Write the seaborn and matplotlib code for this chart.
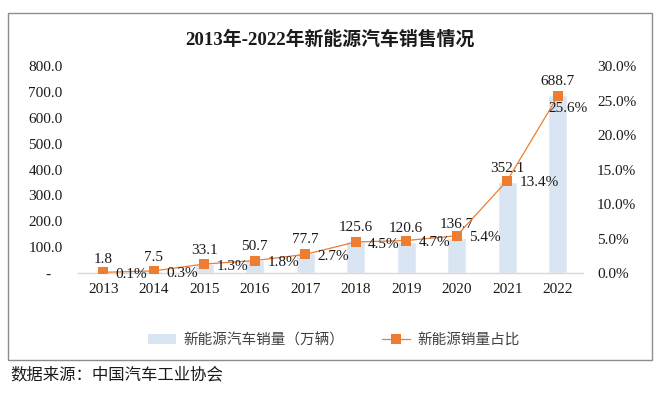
import numpy as np
import pandas as pd
import matplotlib
matplotlib.use("Agg")
import matplotlib.pyplot as plt
from matplotlib.patches import Rectangle, Patch
from matplotlib.lines import Line2D
import seaborn as sns

years = ["2013", "2014", "2015", "2016", "2017", "2018", "2019", "2020", "2021", "2022"]
sales = [1.8, 7.5, 33.1, 50.7, 77.7, 125.6, 120.6, 136.7, 352.1, 688.7]
share = [0.1, 0.3, 1.3, 1.8, 2.7, 4.5, 4.7, 5.4, 13.4, 25.6]
left_ticks = [0, 100, 200, 300, 400, 500, 600, 700, 800]
right_ticks = [0, 5, 10, 15, 20, 25, 30]
title = "2013年-2022年新能源汽车销售情况"
bar_name = "新能源汽车销量（万辆）"
line_name = "新能源销量占比"
source = "数据来源：中国汽车工业协会"

sns.set_theme(style="white")
FAM = ["Liberation Serif", "Noto Sans CJK SC", "DejaVu Sans"]
plt.rcParams["font.family"] = FAM

BAR_C = "#dae5f3"
LINE_C = "#ed7d31"
TXT_C = "#1a1a1a"

df = pd.DataFrame({"year": years, "sales": sales, "share": share, "pos": np.arange(len(years))})

fig = plt.figure(figsize=(6.6, 3.96), dpi=100)
ax = fig.add_axes([78 / 660, 1 - 273 / 396, 505 / 660, 207 / 396])
sns.barplot(data=df, x="year", y="sales", color=BAR_C, width=0.38, saturation=1, ax=ax, zorder=1)
ax.set_ylim(0, 800)
ax.set_xlim(-0.5, len(years) - 0.5)
ax.set_yticks(left_ticks)
ax.set_yticklabels(["-   " if v == 0 else f"{v:.1f}" for v in left_ticks])
ax.set_xlabel("")
ax.set_ylabel("")
for s in ["top", "left", "right"]:
    ax.spines[s].set_visible(False)
ax.spines["bottom"].set_color("#d9d9d9")
ax.spines["bottom"].set_linewidth(1.0)
ax.tick_params(axis="x", length=0, pad=7, labelsize=11, labelcolor=TXT_C)
ax.tick_params(axis="y", length=0, pad=11, labelsize=11, labelcolor=TXT_C)

for p, v in zip(df["pos"], df["sales"]):
    ax.annotate(f"{v:.1f}", (p, v), xytext=(0, 5), textcoords="offset points",
                ha="center", va="bottom", fontsize=11, color=TXT_C, zorder=5)

ax2 = ax.twinx()
sns.lineplot(data=df, x="pos", y="share", color=LINE_C, linewidth=0.9, marker="s",
             markersize=7, markeredgewidth=0, ax=ax2, zorder=3)
ax2.set_ylim(0, 30)
ax2.set_yticks(right_ticks)
ax2.set_yticklabels([f"{v:.1f}%" for v in right_ticks])
ax2.set_ylabel("")
for s in ["top", "left", "right", "bottom"]:
    ax2.spines[s].set_visible(False)
ax2.tick_params(axis="y", length=0, pad=10, labelsize=11, labelcolor=TXT_C)

n = len(years)
for i, (p, v) in enumerate(zip(df["pos"], df["share"])):
    if i == n - 1:
        ax2.annotate(f"{v:.1f}%", (p, v), xytext=(-7, -4), textcoords="offset points",
                     ha="left", va="top", fontsize=11, color=TXT_C, zorder=6)
    else:
        ax2.annotate(f"{v:.1f}%", (p, v), xytext=(9, -1.5), textcoords="offset points",
                     ha="left", va="center", fontsize=11, color=TXT_C, zorder=6)

handles = [Patch(facecolor=BAR_C, edgecolor="none"),
           Line2D([0], [0], color=LINE_C, lw=0.9, marker="s", markersize=7, markeredgewidth=0)]
fig.legend(handles, [bar_name, line_name], loc="center", bbox_to_anchor=(334 / 660, 1 - 340 / 396),
           ncol=2, frameon=False, fontsize=10.5, handlelength=1.9, handletextpad=0.5,
           columnspacing=2.6, labelcolor="#404040")

fig.text(0.5, 1 - 40 / 396, title, ha="center", va="center", fontsize=13.6, fontweight="bold",
         color=TXT_C)
fig.text(10 / 660, 1 - 375 / 396, source, ha="left", va="center", fontsize=11.8, color=TXT_C)

fig.patches.append(Rectangle((8 / 660, 1 - 360 / 396), 644 / 660, 347 / 396, transform=fig.transFigure,
                             fill=False, edgecolor="#8c8c8c", linewidth=1.0))

fig.savefig("out.png", dpi=100)
